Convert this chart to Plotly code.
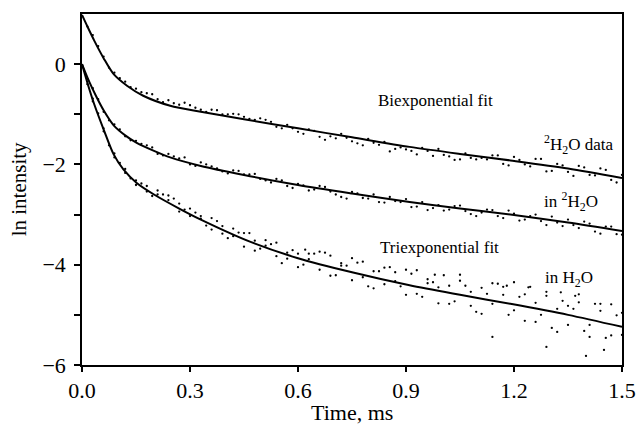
import plotly.graph_objects as go

# ---- fitted curves (time in ms, ln intensity) ----
fit_top_t = [0, 0.017, 0.034, 0.06, 0.088, 0.125, 0.17, 0.245, 0.33, 0.45, 0.6, 0.75, 0.91, 1.05, 1.19, 1.35, 1.5]
fit_top_y = [0.98, 0.72, 0.47, 0.12, -0.2, -0.43, -0.63, -0.83, -0.95, -1.1, -1.28, -1.46, -1.65, -1.79, -1.92, -2.08, -2.27]

fit_mid_t = [0, 0.02, 0.04, 0.06, 0.088, 0.12, 0.152, 0.2, 0.245, 0.33, 0.45, 0.6, 0.75, 0.91, 1.05, 1.19, 1.35, 1.5]
fit_mid_y = [0, -0.35, -0.65, -0.92, -1.22, -1.42, -1.57, -1.73, -1.86, -2.03, -2.21, -2.41, -2.58, -2.75, -2.88, -3.0, -3.16, -3.33]

fit_bot_t = [0, 0.017, 0.034, 0.06, 0.088, 0.115, 0.152, 0.2, 0.27, 0.33, 0.47, 0.6, 0.75, 0.91, 1.05, 1.19, 1.35, 1.5]
fit_bot_y = [0, -0.42, -0.8, -1.3, -1.8, -2.1, -2.37, -2.6, -2.88, -3.1, -3.55, -3.87, -4.15, -4.41, -4.6, -4.78, -5.0, -5.24]

# ---- data points ----
dot_t = [0.03, 0.06, 0.09, 0.12, 0.15, 0.18, 0.21, 0.24, 0.27, 0.30,
         0.33, 0.36, 0.39, 0.42, 0.45, 0.48, 0.51, 0.54, 0.57, 0.60,
         0.63, 0.66, 0.69, 0.72, 0.75, 0.78, 0.81, 0.84, 0.87, 0.90,
         0.93, 0.96, 0.99, 1.02, 1.05, 1.08, 1.11, 1.14, 1.17, 1.20,
         1.23, 1.26, 1.29, 1.32, 1.35, 1.38, 1.41, 1.44, 1.47, 1.50]
dot_t2 = [0.015, 0.045, 0.075, 0.105, 0.135, 0.165, 0.195, 0.225, 0.255, 0.285,
          0.315, 0.345, 0.375, 0.405, 0.435, 0.465, 0.495, 0.525, 0.555, 0.585,
          0.615, 0.645, 0.675, 0.705, 0.735, 0.765, 0.795, 0.825, 0.855, 0.885,
          0.915, 0.945, 0.975, 1.005, 1.035, 1.065, 1.095, 1.125, 1.155, 1.185,
          1.215, 1.245, 1.275, 1.305, 1.335, 1.365, 1.395, 1.425, 1.455, 1.485]

top_a = [0.58, 0.15, -0.17, -0.35, -0.49, -0.58, -0.70, -0.72, -0.81, -0.82,
         -0.91, -0.91, -1.00, -0.99, -1.05, -1.11, -1.11, -1.25, -1.21, -1.35,
         -1.30, -1.45, -1.44, -1.39, -1.54, -1.62, -1.57, -1.55, -1.69, -1.70,
         -1.80, -1.73, -1.69, -1.84, -1.90, -1.87, -1.87, -1.82, -1.99, -1.85,
         -2.00, -1.89, -2.14, -1.99, -2.15, -2.03, -2.21, -2.08, -2.31, -2.21]
top_b = [0.75, 0.36, -0.07, -0.28, -0.46, -0.56, -0.60, -0.76, -0.78, -0.77,
         -0.87, -0.95, -0.92, -1.00, -1.00, -1.09, -1.08, -1.15, -1.28, -1.28,
         -1.39, -1.33, -1.51, -1.48, -1.47, -1.58, -1.49, -1.61, -1.74, -1.66,
         -1.73, -1.67, -1.83, -1.81, -1.91, -1.78, -1.90, -1.90, -1.82, -2.02,
         -1.91, -2.04, -1.89, -2.13, -2.02, -2.23, -2.06, -2.22, -2.11, -2.36]

mid_a = [-0.48, -0.95, -1.20, -1.44, -1.53, -1.62, -1.79, -1.79, -1.88, -2.00,
         -1.96, -2.04, -2.14, -2.12, -2.20, -2.19, -2.32, -2.29, -2.43, -2.39,
         -2.52, -2.43, -2.54, -2.65, -2.55, -2.67, -2.60, -2.76, -2.73, -2.69,
         -2.84, -2.91, -2.81, -2.90, -2.82, -2.99, -2.96, -2.91, -3.07, -2.98,
         -3.10, -3.00, -3.21, -3.16, -3.10, -3.27, -3.18, -3.38, -3.24, -3.40]
mid_b = [-0.30, -0.70, -1.12, -1.30, -1.52, -1.59, -1.66, -1.82, -1.84, -1.86,
         -2.03, -2.00, -2.08, -2.18, -2.13, -2.20, -2.29, -2.36, -2.32, -2.47,
         -2.42, -2.50, -2.45, -2.60, -2.68, -2.58, -2.68, -2.75, -2.65, -2.75,
         -2.85, -2.75, -2.87, -2.92, -2.83, -2.93, -3.03, -2.90, -3.03, -2.92,
         -3.12, -3.03, -3.13, -3.04, -3.23, -3.21, -3.14, -3.34, -3.24, -3.39]

bot_a = [-0.69, -1.34, -1.78, -2.17, -2.32, -2.43, -2.52, -2.71, -2.78, -3.03,
         -3.03, -3.07, -3.38, -3.28, -3.64, -3.52, -3.51, -3.83, -3.76, -4.05,
         -3.78, -4.10, -3.82, -4.02, -4.31, -3.94, -4.13, -4.39, -4.15, -4.10,
         -4.58, -4.29, -4.45, -4.78, -4.32, -4.54, -4.98, -4.37, -4.60, -4.91,
         -4.59, -5.14, -4.54, -4.88, -5.20, -4.75, -5.44, -4.92, -4.79, -5.40]
bot_b = [-0.40, -0.98, -1.62, -1.97, -2.28, -2.38, -2.63, -2.60, -2.68, -2.90,
         -2.96, -3.22, -3.13, -3.47, -3.36, -3.37, -3.68, -3.59, -3.97, -3.71,
         -4.00, -3.78, -3.76, -4.21, -4.02, -3.96, -4.43, -4.13, -4.05, -4.43,
         -4.18, -4.64, -4.35, -4.21, -4.73, -4.42, -4.94, -4.58, -4.38, -5.00,
         -4.64, -4.44, -5.00, -5.26, -4.72, -4.88, -5.32, -4.78, -5.46, -5.01]
bot_c = [-0.74, -1.28, -1.86, -2.09, -2.41, -2.54, -2.60, -2.62, -2.94, -2.88,
         -3.08, -3.30, -3.23, -3.43, -3.37, -3.72, -3.62, -3.56, -3.88, -3.78,
         -3.89, -3.74, -4.22, -3.97, -3.87, -4.25, -4.47, -4.06, -4.33, -4.60,
         -4.11, -4.37, -4.77, -4.42, -4.20, -4.82, -4.46, -4.78, -4.44, -4.35,
         -5.12, -4.76, -4.62, -5.34, -4.82, -4.59, -5.20, -4.78, -5.41, -4.96]
bot_out_t = [1.14, 1.29, 1.40, 1.45, 0.98, 1.24, 1.33, 0.62, 1.18, 1.37]
bot_out_y = [-5.44, -5.64, -5.82, -5.70, -4.20, -4.45, -4.55, -3.70, -4.42, -4.62]

x_ticks = [0.0, 0.3, 0.6, 0.9, 1.2, 1.5]
y_tickvals = [-6, -5, -4, -3, -2, -1, 0]
y_ticktext = ["\u22126", "", "\u22124", "", "\u22122", "", "0"]

labels = [
    ("Biexponential fit", 0.983, -0.72, "center"),
    ("<sup>2</sup>H<sub>2</sub>O data", 1.278, -1.61, "left"),
    ("in <sup>2</sup>H<sub>2</sub>O", 1.278, -2.74, "left"),
    ("Triexponential fit", 0.994, -3.65, "center"),
    ("in H<sub>2</sub>O", 1.281, -4.29, "left"),
]

FONT = "Liberation Serif, Times New Roman, serif"

fig = go.Figure()
dot_style = dict(mode="markers", marker=dict(color="black", size=2.3, line=dict(width=0)),
                 showlegend=False, hoverinfo="skip")
for xs, ys in [(dot_t, top_a), (dot_t2, top_b), (dot_t, mid_a), (dot_t2, mid_b),
               (dot_t, bot_a), (dot_t2, bot_b), (dot_t, bot_c), (bot_out_t, bot_out_y)]:
    fig.add_trace(go.Scatter(x=xs, y=ys, **dot_style))

for tx, ty in [(fit_top_t, fit_top_y), (fit_mid_t, fit_mid_y), (fit_bot_t, fit_bot_y)]:
    fig.add_trace(go.Scatter(x=tx, y=ty, mode="lines",
                             line=dict(color="black", width=2, shape="spline", smoothing=0.8),
                             showlegend=False, hoverinfo="skip"))

for text, x, y, anchor in labels:
    fig.add_annotation(x=x, y=y, text=text, showarrow=False, xanchor=anchor, yanchor="middle",
                       font=dict(family=FONT, size=17, color="black"))

# axis titles placed as annotations
fig.add_annotation(xref="paper", yref="paper", x=-0.117, y=0.5, text="ln intensity",
                   textangle=-90, showarrow=False, xanchor="center", yanchor="middle",
                   font=dict(family=FONT, size=21, color="black"))
fig.add_annotation(xref="paper", yref="paper", x=0.5, y=-0.136, text="Time, ms",
                   showarrow=False, xanchor="center", yanchor="middle",
                   font=dict(family=FONT, size=22, color="black"))

fig.update_layout(
    width=636, height=426,
    margin=dict(l=82, r=14, t=14, b=61),
    paper_bgcolor="white", plot_bgcolor="white",
    font=dict(family=FONT, color="black", size=22),
    showlegend=False,
)
fig.update_xaxes(
    range=[0, 1.5], tickvals=x_ticks, tickformat=".1f", automargin=False,
    ticks="outside", ticklen=5, tickwidth=1.5, tickcolor="black",
    showline=True, linecolor="black", linewidth=1.5, mirror=True,
    showgrid=False, zeroline=False,
    tickfont=dict(family=FONT, size=22, color="black"),
)
fig.update_yaxes(
    range=[-6, 1], tickvals=y_tickvals, ticktext=y_ticktext, automargin=False,
    ticks="outside", ticklen=6, tickwidth=1.5, tickcolor="black", ticklabelstandoff=4,
    showline=True, linecolor="black", linewidth=1.5, mirror=True,
    showgrid=False, zeroline=False,
    tickfont=dict(family=FONT, size=22, color="black"),
)

fig.write_html("out.html", config={"displayModeBar": False},
               post_script="document.body.style.margin='0px';")
